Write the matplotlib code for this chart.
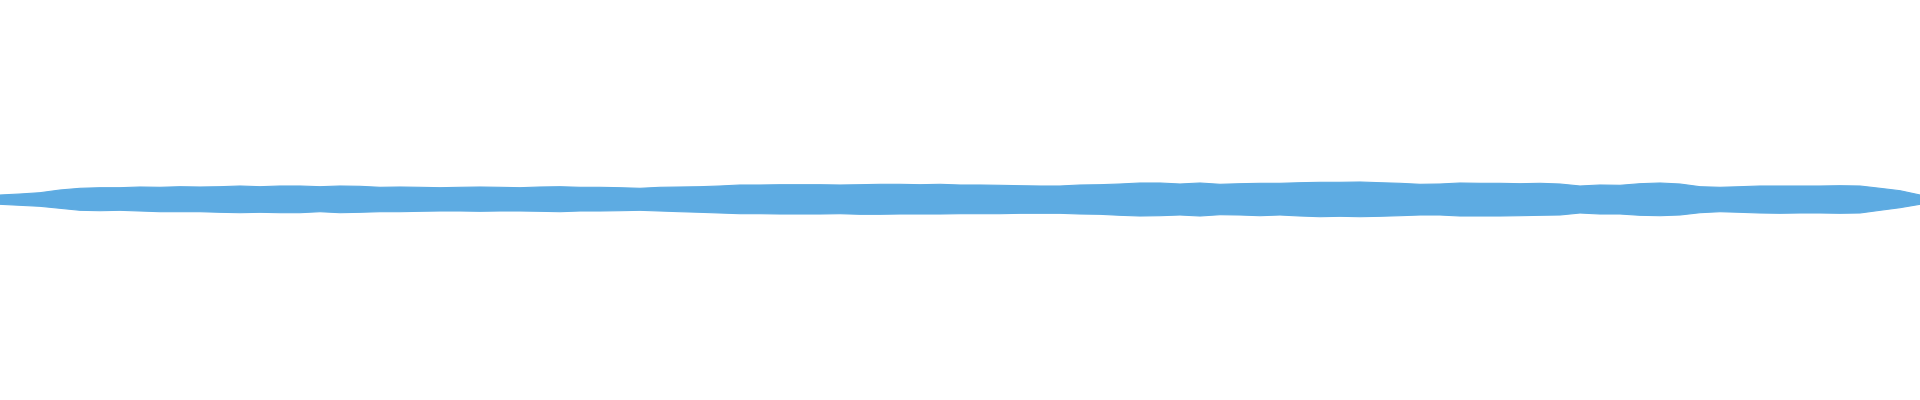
import numpy as np
import matplotlib
matplotlib.use("Agg")
import matplotlib.pyplot as plt

# waveform peak envelope, one reading every 20 columns (arbitrary amplitude units)
peak_max = [5, 6, 7.3, 10, 11.7, 12.3, 12.3, 13, 12.7, 13.3, 13, 13.3, 14, 13.3, 14, 14,
            13.3, 14, 13.7, 12.7, 13, 12.7, 12.3, 12.7, 13, 12.7, 12.3, 13, 13.3, 12.7, 12.7, 12.3,
            11.7, 12.7, 13, 13.3, 14, 15, 15, 15.3, 15.3, 15.3, 15, 15.3, 15.7, 15.7, 15.3, 15.7,
            15, 15, 14.7, 14.3, 14, 14, 15, 15.3, 16, 17, 17, 16, 17, 15.7, 16.3, 16.7,
            16.7, 17.3, 17.7, 17.7, 18, 17.3, 16.7, 15.7, 16, 17, 16.7, 16.7, 16.3, 16.7, 16, 14,
            15, 14.7, 16.3, 17, 16, 13.3, 12.7, 13.3, 14, 14, 14, 14, 14.3, 14, 11.7, 9.3, 5]
peak_min = [4.3, 5.3, 6.3, 8.3, 10.3, 10.7, 10.3, 11, 11.7, 11.7, 11.7, 12.3, 12.7, 12.3, 12.7, 12.7,
            11.7, 12.7, 12.3, 11.7, 11.7, 11.3, 11, 11, 11.3, 11, 11, 11.3, 11.7, 11, 11, 10.7,
            10.3, 11, 11.7, 12.3, 13, 13.7, 13.7, 14, 14, 14, 13.7, 14.3, 14.3, 14, 14, 14,
            13.7, 13.7, 13.7, 13.3, 13.3, 13.3, 14, 14.3, 15.3, 16, 15.7, 15, 16, 14.7, 15, 15.7,
            15, 16, 16.7, 16.3, 16.7, 16.3, 15.7, 15, 15, 16, 16, 16, 15.7, 15.3, 15, 13,
            14, 14, 15.3, 15.7, 15, 12.7, 11.7, 12.3, 13, 13.3, 13, 13, 13.3, 13, 10.3, 7.7, 4.3]

wave_color = "#5dabe2"

pos = np.arange(len(peak_max))
top = np.array(peak_max)
bottom = -np.array(peak_min)

fig = plt.figure(figsize=(19.2, 4), dpi=100)
ax = fig.add_axes([0, 0, 1, 1])
ax.fill_between(pos, bottom, top, color=wave_color, linewidth=0.8, edgecolor=wave_color)
ax.set_xlim(0, len(peak_max) - 1)
ax.set_ylim(-200, 200)
ax.axis("off")

fig.savefig("out.png", dpi=100, facecolor="white")
